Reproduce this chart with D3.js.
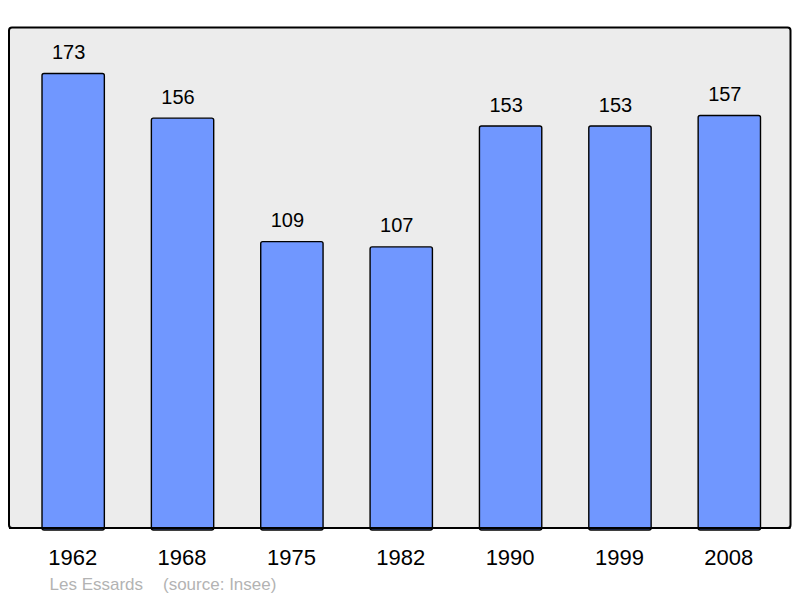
<!DOCTYPE html>
<html><head><meta charset="utf-8">
<script src="https://cdn.jsdelivr.net/npm/d3@7"></script>
<style>body{margin:0;background:#fff}svg{display:block}</style>
</head><body>
<script>
const years = ["1962","1968","1975","1982","1990","1999","2008"];
const population = [173,156,109,107,153,153,157];
const footerLabels = ["Les Essards", "(source: Insee)"];

const W = 800, H = 598;
const svg = d3.select("body").append("svg").attr("width", W).attr("height", H);
const frame = {x0: 9, y0: 27.5, x1: 790.5, y1: 528};
const font = "Liberation Sans, Arial, sans-serif";

svg.append("rect").attr("x", frame.x0).attr("y", frame.y0)
  .attr("width", frame.x1 - frame.x0).attr("height", frame.y1 - frame.y0)
  .attr("rx", 3).attr("fill", "#ececec").attr("stroke", "#000").attr("stroke-width", 2);

const x = d3.scaleBand().domain(years).range([18.5, 784]).paddingInner(0.43).paddingOuter(0.215);
const y = d3.scaleLinear().domain([0, 190.5]).range([frame.y1, frame.y0]);

svg.append("g").selectAll("rect").data(population).join("rect")
  .attr("x", (d,i) => x(years[i]))
  .attr("y", d => y(d))
  .attr("width", x.bandwidth())
  .attr("height", d => frame.y1 - y(d) + 2)
  .attr("rx", 2)
  .attr("fill", "#7097ff").attr("stroke", "#000").attr("stroke-width", 1.4);

svg.append("line").attr("x1", frame.x0).attr("x2", frame.x1).attr("y1", frame.y1).attr("y2", frame.y1)
  .attr("stroke", "#000").attr("stroke-width", 2);

svg.append("g").selectAll("text").data(population).join("text")
  .attr("x", (d,i) => x(years[i]) + x.bandwidth()/2 - 4.5)
  .attr("y", d => y(d) - 14.5)
  .attr("text-anchor", "middle")
  .attr("font-family", font)
  .attr("font-size", 20)
  .attr("fill", "#000")
  .text(d => d);

const xAxis = d3.axisBottom(x).tickSize(0).tickPadding(0);
const gx = svg.append("g").attr("transform", `translate(0,${frame.y1})`).call(xAxis);
gx.select(".domain").remove();
gx.selectAll("text").attr("dy", null).attr("y", 37).attr("dx", -0.5)
  .attr("font-family", font)
  .attr("font-size", 22).attr("fill", "#000");

svg.append("text").attr("x", 49.5).attr("y", 589.5)
  .attr("font-family", font).attr("font-size", 17).attr("fill", "#b3b3b3")
  .text(footerLabels[0]);
svg.append("text").attr("x", 163).attr("y", 589.5)
  .attr("font-family", font).attr("font-size", 17).attr("fill", "#b3b3b3")
  .text(footerLabels[1]);
</script>
</body></html>
